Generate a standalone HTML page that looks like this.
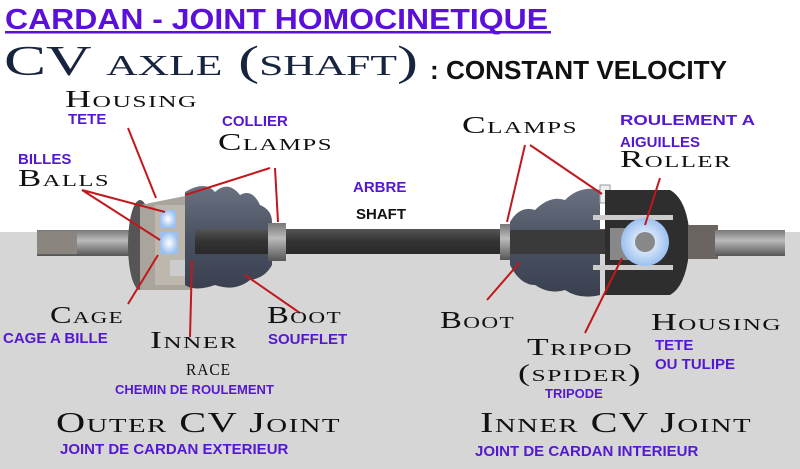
<!DOCTYPE html>
<html><head><meta charset="utf-8"><style>
html,body{margin:0;padding:0;width:800px;height:469px;overflow:hidden;background:#fff}
svg{display:block}
.sc{font-family:"Liberation Serif",serif;font-variant:small-caps;fill:#111;letter-spacing:1px}
.p{font-family:"Liberation Sans",sans-serif;font-weight:bold;fill:#5418d0}
.b{font-family:"Liberation Sans",sans-serif;font-weight:bold;fill:#111}
.r{stroke:#c0181c;stroke-width:2;fill:none}
</style></head><body>
<svg width="800" height="469" viewBox="0 0 800 469">
<defs>
<linearGradient id="sh" x1="0" y1="0" x2="0" y2="1"><stop offset="0" stop-color="#555"/><stop offset="0.5" stop-color="#333"/><stop offset="1" stop-color="#2a2a2a"/></linearGradient>
<linearGradient id="met" x1="0" y1="0" x2="0" y2="1"><stop offset="0" stop-color="#777"/><stop offset="0.4" stop-color="#bbb"/><stop offset="1" stop-color="#555"/></linearGradient>
<linearGradient id="bt" x1="0" y1="0" x2="0" y2="1"><stop offset="0" stop-color="#6a7282"/><stop offset="0.5" stop-color="#4a5262"/><stop offset="1" stop-color="#3a4050"/></linearGradient>
<radialGradient id="bl"><stop offset="0" stop-color="#fff"/><stop offset="1" stop-color="#9bc0f0"/></radialGradient>
</defs>
<rect x="0" y="232" width="800" height="237" fill="#d6d6d6"/>
<text x="5" y="29" class="p" font-size="29" style="fill:#5a10d8" textLength="543" lengthAdjust="spacingAndGlyphs">CARDAN - JOINT HOMOCINETIQUE</text>
<rect x="5" y="31" width="546" height="2.5" fill="#5a10d8"/>
<text x="4" y="75" font-family="Liberation Serif,serif" font-size="42" style="font-variant:small-caps" fill="#17243f" textLength="414" lengthAdjust="spacingAndGlyphs">CV axle (shaft)</text>
<text x="430" y="79" class="b" font-size="26" textLength="297" lengthAdjust="spacingAndGlyphs">: CONSTANT VELOCITY</text>
<rect x="37" y="230" width="95" height="26" fill="url(#met)"/>
<rect x="37" y="232" width="40" height="22" fill="#8a857e"/>
<ellipse cx="140" cy="245" rx="12" ry="45" fill="#555"/>
<path d="M140 205 L185 196 L192 290 L140 290 Z" fill="#a9a49c"/>
<rect x="155" y="205" width="35" height="80" fill="#bdb7ae"/>
<rect x="160" y="210" width="16" height="18" fill="url(#bl)"/>
<rect x="160" y="232" width="18" height="22" fill="url(#bl)"/>
<path d="M170 260 h40 v16 h-40 z" fill="#ccc"/>
<path d="M185 192 Q205 180 215 192 Q228 180 240 195 Q252 188 260 205 Q272 210 272 222 L272 265 Q265 278 250 280 Q235 292 215 285 Q195 292 185 285 Z" fill="url(#bt)"/>
<rect x="195" y="229" width="415" height="25" fill="url(#sh)"/>
<rect x="268" y="223" width="18" height="38" fill="url(#met)"/>
<rect x="500" y="224" width="12" height="36" fill="url(#met)"/>
<path d="M510 222 Q520 205 535 210 Q550 195 565 200 Q580 185 600 190 L600 295 Q580 300 565 290 Q550 295 535 285 Q520 285 510 265 Z" fill="url(#bt)"/>
<rect x="510" y="230" width="100" height="24" fill="#3a3a3a"/>
<rect x="600" y="185" width="10" height="18" fill="#eee" stroke="#999"/>
<path d="M605 190 L670 190 Q688 200 690 240 Q688 285 670 295 L605 295 Z" fill="#2e2e2e"/>
<rect x="593" y="215" width="80" height="5" fill="#ccc"/>
<rect x="593" y="265" width="80" height="5" fill="#ccc"/>
<rect x="610" y="228" width="20" height="32" fill="#888"/>
<circle cx="645" cy="242" r="24" fill="url(#bl)"/>
<circle cx="645" cy="242" r="10" fill="#888"/>
<rect x="688" y="225" width="30" height="34" fill="#6a6560"/>
<rect x="715" y="230" width="70" height="26" fill="url(#met)"/>
<path class="r" d="M82 190 L165 212 M82 190 L160 240 M128 128 L156 198 M185 195 L270 168 M275 168 L278 222 M128 304 L158 255 M190 337 L192 260 M300 313 L245 275 M525 145 L507 222 M530 145 L602 194 M660 178 L645 225 M487 300 L520 262 M585 333 L622 258"/>
<text x="65" y="107" class="sc" font-size="24" textLength="133" lengthAdjust="spacingAndGlyphs">Housing</text>
<text x="68" y="124" class="p" font-size="15">TETE</text>
<text x="222" y="126" class="p" font-size="15">COLLIER</text>
<text x="218" y="150" class="sc" font-size="24" textLength="115" lengthAdjust="spacingAndGlyphs">Clamps</text>
<text x="18" y="164" class="p" font-size="15">BILLES</text>
<text x="18" y="186" class="sc" font-size="24" textLength="92" lengthAdjust="spacingAndGlyphs">Balls</text>
<text x="353" y="192" class="p" font-size="15">ARBRE</text>
<text x="356" y="219" class="b" font-size="15">SHAFT</text>
<text x="462" y="133" class="sc" font-size="24" textLength="116" lengthAdjust="spacingAndGlyphs">Clamps</text>
<text x="620" y="125" class="p" font-size="15" textLength="135" lengthAdjust="spacingAndGlyphs">ROULEMENT A</text>
<text x="620" y="147" class="p" font-size="15">AIGUILLES</text>
<text x="620" y="167" class="sc" font-size="24" textLength="112" lengthAdjust="spacingAndGlyphs">Roller</text>
<text x="50" y="323" class="sc" font-size="24" textLength="74" lengthAdjust="spacingAndGlyphs">Cage</text>
<text x="3" y="343" class="p" font-size="15">CAGE A BILLE</text>
<text x="150" y="348" class="sc" font-size="24" textLength="88" lengthAdjust="spacingAndGlyphs">Inner</text>
<text x="186" y="375" class="sc" font-size="24" textLength="45" lengthAdjust="spacingAndGlyphs">race</text>
<text x="115" y="394" class="p" font-size="13">CHEMIN DE ROULEMENT</text>
<text x="267" y="323" class="sc" font-size="24" textLength="75" lengthAdjust="spacingAndGlyphs">Boot</text>
<text x="268" y="344" class="p" font-size="15">SOUFFLET</text>
<text x="440" y="328" class="sc" font-size="24" textLength="75" lengthAdjust="spacingAndGlyphs">Boot</text>
<text x="527" y="355" class="sc" font-size="24" textLength="106" lengthAdjust="spacingAndGlyphs">Tripod</text>
<text x="518" y="381" class="sc" font-size="24" textLength="124" lengthAdjust="spacingAndGlyphs">(spider)</text>
<text x="545" y="398" class="p" font-size="13">TRIPODE</text>
<text x="651" y="330" class="sc" font-size="24" textLength="131" lengthAdjust="spacingAndGlyphs">Housing</text>
<text x="655" y="350" class="p" font-size="15">TETE</text>
<text x="655" y="369" class="p" font-size="15">OU TULIPE</text>
<text x="56" y="432" class="sc" font-size="28" textLength="285" lengthAdjust="spacingAndGlyphs">Outer CV Joint</text>
<text x="60" y="454" class="p" font-size="15">JOINT DE CARDAN EXTERIEUR</text>
<text x="480" y="432" class="sc" font-size="28" textLength="272" lengthAdjust="spacingAndGlyphs">Inner CV Joint</text>
<text x="475" y="456" class="p" font-size="15">JOINT DE CARDAN INTERIEUR</text>
</svg>
</body></html>
